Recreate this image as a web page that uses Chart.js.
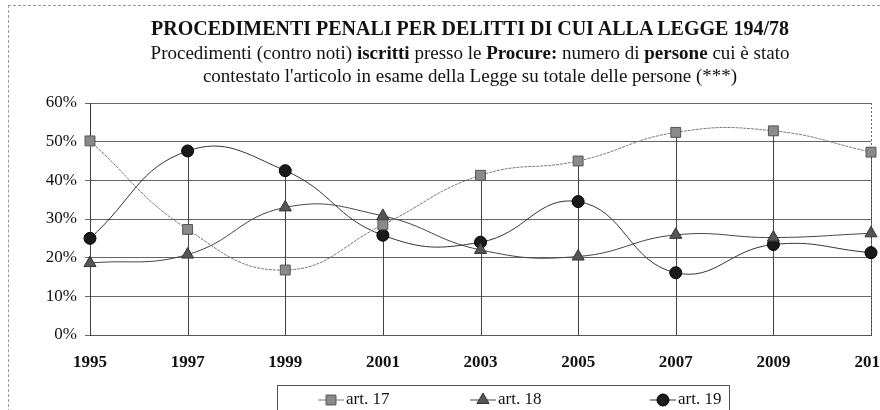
<!DOCTYPE html>
<html><head><meta charset="utf-8">
<script src="https://cdn.jsdelivr.net/npm/chart.js@4"></script>
<style>
html,body{margin:0;padding:0;background:#fff;overflow:hidden;width:880px;height:410px;}
#wrap{position:absolute;left:0;top:0;width:906px;height:410px;}
#frame{position:absolute;left:8px;top:5px;width:900px;height:430px;border:1px dashed #999;}
.t{position:absolute;left:0;width:940px;text-align:center;font-family:"Liberation Serif","DejaVu Serif",serif;color:#111;white-space:nowrap;}
#t1{top:17px;font-size:20px;font-weight:bold;}
#t2{top:42px;font-size:19px;}
#t3{top:65px;font-size:19px;}
</style></head>
<body>
<div id="frame"></div>
<div id="wrap"><canvas id="c" width="906" height="410"></canvas></div>
<div class="t" id="t1">PROCEDIMENTI PENALI PER DELITTI DI CUI ALLA LEGGE 194/78</div>
<div class="t" id="t2">Procedimenti (contro noti) <b>iscritti</b> presso le <b>Procure:</b> numero di <b>persone</b> cui è stato</div>
<div class="t" id="t3">contestato l'articolo in esame della Legge su totale delle persone (***)</div>
<script>
const years = ["1995","1997","1999","2001","2003","2005","2007","2009","2011"];
const art17 = [50.2, 27.3, 16.8, 28.5, 41.3, 45.0, 52.4, 52.8, 47.3];
const art18 = [18.6, 20.8, 33.0, 30.8, 22.0, 20.3, 25.9, 25.2, 26.3];
const art19 = [25.0, 47.6, 42.5, 25.8, 24.0, 34.5, 16.1, 23.4, 21.3];
const yTicks = [0, 10, 20, 30, 40, 50, 60];

const serif = '"Liberation Serif","DejaVu Serif",serif';

const dropLines = {
  id: 'dropLines',
  beforeDatasetsDraw(chart) {
    const ctx = chart.ctx, x = chart.scales.x, y = chart.scales.y;
    ctx.save();
    ctx.strokeStyle = '#444';
    ctx.lineWidth = 1;
    years.forEach((_, i) => {
      const vals = chart.data.datasets.map(d => d.data[i]);
      const mx = Math.max(...vals);
      const px = Math.round(x.getPixelForValue(i)) + 0.5;
      ctx.beginPath();
      ctx.moveTo(px, y.getPixelForValue(0));
      ctx.lineTo(px, y.getPixelForValue(mx));
      ctx.stroke();
    });
    ctx.setLineDash([2, 2]);
    ctx.strokeStyle = '#666';
    const rx = Math.round(chart.chartArea.right) + 0.5;
    ctx.beginPath();
    ctx.moveTo(rx, chart.chartArea.top);
    ctx.lineTo(rx, chart.chartArea.bottom);
    ctx.stroke();
    ctx.restore();
  }
};

const customLegend = {
  id: 'customLegend',
  afterDraw(chart) {
    const ctx = chart.ctx;
    ctx.save();
    ctx.strokeStyle = '#555';
    ctx.lineWidth = 1;
    ctx.strokeRect(277.5, 385.5, 452, 40);
    const items = [{x: 331, ds: 0}, {x: 483, ds: 1}, {x: 663, ds: 2}];
    const yy = 400;
    items.forEach(it => {
      const d = chart.data.datasets[it.ds];
      ctx.strokeStyle = d.borderColor;
      ctx.lineWidth = 1;
      ctx.beginPath();
      ctx.moveTo(it.x - 13, yy);
      ctx.lineTo(it.x + 13, yy);
      ctx.stroke();
      ctx.fillStyle = d.pointBackgroundColor;
      ctx.strokeStyle = d.pointBorderColor;
      Chart.helpers.drawPoint(ctx, {pointStyle: d.pointStyle, radius: d.pointRadius, borderWidth: 1}, it.x, yy);
      ctx.fillStyle = '#111';
      ctx.font = '17px ' + serif;
      ctx.textBaseline = 'middle';
      ctx.textAlign = 'left';
      ctx.fillText(d.label, it.x + 15, yy);
    });
    ctx.restore();
  }
};

new Chart(document.getElementById('c'), {
  type: 'line',
  data: {
    labels: years,
    datasets: [
      {label: 'art. 17', data: art17, borderColor: '#777', borderWidth: 1, borderDash: [3, 1],
       pointStyle: 'rect', pointRadius: 7, pointBackgroundColor: '#8a8a8a', pointBorderColor: '#555', pointBorderWidth: 1, tension: 0.45},
      {label: 'art. 18', data: art18, borderColor: '#444', borderWidth: 1,
       pointStyle: 'triangle', pointRadius: 7, pointBackgroundColor: '#555', pointBorderColor: '#333', pointBorderWidth: 1, tension: 0.45},
      {label: 'art. 19', data: art19, borderColor: '#333', borderWidth: 1,
       pointStyle: 'circle', pointRadius: 6, pointBackgroundColor: '#1a1a1a', pointBorderColor: '#000', pointBorderWidth: 1, tension: 0.45}
    ]
  },
  options: {
    responsive: false,
    animation: false,
    events: [],
    layout: {padding: {left: 10, top: 103, right: 35, bottom: 18}},
    plugins: {legend: {display: false}, title: {display: false}, tooltip: {enabled: false}},
    scales: {
      x: {
        offset: false,
        afterFit(s) { s.height = 57; s.paddingLeft = 0; s.paddingRight = 0; },
        grid: {display: false},
        border: {display: true, color: '#555'},
        ticks: {color: '#111', font: {family: serif, size: 17, weight: 'bold'}, padding: 9, maxRotation: 0, autoSkip: false}
      },
      y: {
        min: 0, max: 60,
        afterBuildTicks(s) { s.ticks = yTicks.map(v => ({value: v})); },
        afterFit(s) { s.width = 80; s.paddingTop = 0; s.paddingBottom = 0; },
        grid: {color: '#666', lineWidth: 1, tickLength: 5, drawTicks: true},
        border: {display: true, color: '#333'},
        ticks: {color: '#111', font: {family: serif, size: 17}, padding: 8, callback: v => v + '%'}
      }
    }
  },
  plugins: [dropLines, customLegend]
});
</script>
</body></html>
